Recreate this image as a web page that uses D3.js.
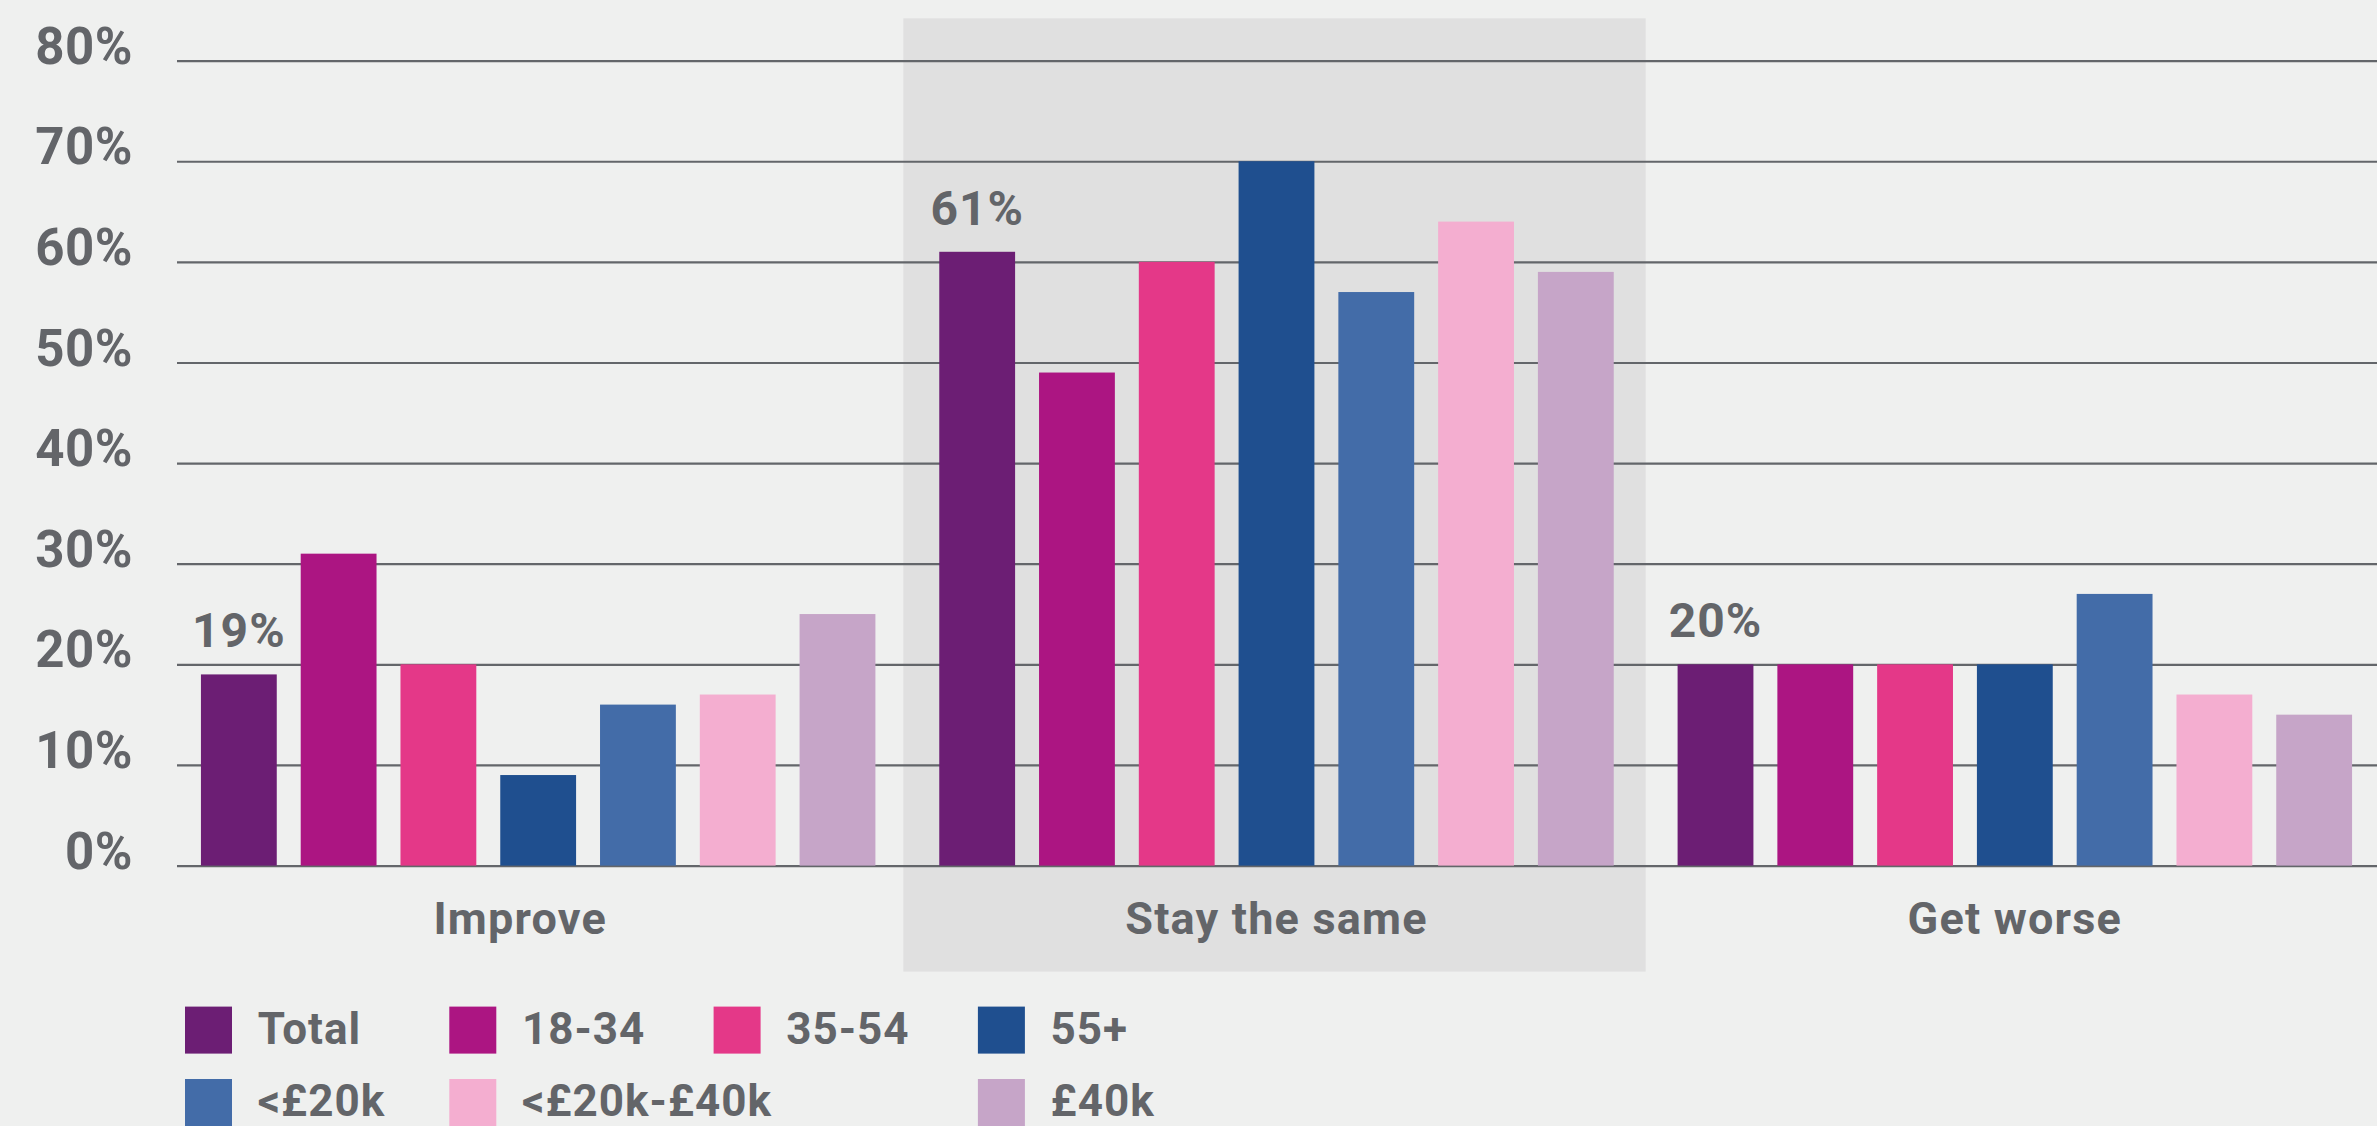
<!DOCTYPE html>
<html>
<head>
<meta charset="utf-8">
<script src="https://cdn.jsdelivr.net/npm/d3@7"></script>
<style>
  html, body { margin: 0; padding: 0; background: #eff0ef; }
  svg { display: block; }
  text { font-family: Roboto, "Noto Sans", sans-serif; font-weight: 700; fill: #636569; }
</style>
</head>
<body>
<svg id="chart" width="2377" height="1126"></svg>
<script>
// ---- data ----
const categories = ["Improve", "Stay the same", "Get worse"];
const seriesNames = ["Total", "18-34", "35-54", "55+", "<£20k", "<£20k-£40k", "£40k"];
const improveValues = [19, 31, 20, 9, 16, 17, 25];
const stayValues = [61, 49, 60, 70, 57, 64, 59];
const worseValues = [20, 20, 20, 20, 27, 17, 15];
const seriesColors = ["#6c1e74", "#ac1582", "#e43888", "#1f4f8f", "#436ca8", "#f4aed0", "#c6a5c8"];
const yTicks = [0, 10, 20, 30, 40, 50, 60, 70, 80];
const legendSlots = ["Total", "18-34", "35-54", "55+", "<£20k", "<£20k-£40k", null, "£40k"];
const highlightedCategory = "Stay the same";

const valuesByCategory = [improveValues, stayValues, worseValues];
const rows = categories.map((c, i) => ({
  category: c,
  values: seriesNames.map((s, j) => ({ series: s, value: valuesByCategory[i][j] }))
}));

// ---- layout ----
const W = 2377, H = 1126;
const gridLeft = 177, gridRight = W;
const tickLabelX = 133;

const svg = d3.select("#chart");
svg.append("rect").attr("width", W).attr("height", H).attr("fill", "#eff0ef");

const y = d3.scaleLinear().domain([0, 80]).range([865.6, 60.6]);
const x0 = d3.scaleBand().domain(categories).range([169, 2384]).padding(0);
const x1 = d3.scaleBand().domain(seriesNames).range([0, x0.bandwidth()])
  .paddingInner(0.24).paddingOuter(0.32);
const color = d3.scaleOrdinal().domain(seriesNames).range(seriesColors);

// highlighted band
svg.append("rect")
  .attr("x", x0(highlightedCategory) - 4)
  .attr("width", x0.bandwidth() + 4)
  .attr("y", y(84.2))
  .attr("height", y(0) + 106 - y(84.2))
  .attr("fill", "#e0e0e0");

// gridlines + tick labels
const axis = d3.axisLeft(y)
  .tickValues(yTicks)
  .tickSize(-(gridRight - gridLeft))
  .tickPadding(gridLeft - tickLabelX)
  .tickFormat(d => d + "%");
const gAxis = svg.append("g").attr("transform", `translate(${gridLeft},0)`).call(axis);
gAxis.select(".domain").remove();
gAxis.selectAll(".tick line").attr("stroke", "#63666a").attr("stroke-width", 2.2);
gAxis.selectAll(".tick text")
  .attr("dy", "0.05em")
  .style("font-size", "51px")
  .style("font-family", "Roboto, sans-serif")
  .style("font-weight", 700)
  .style("letter-spacing", "0.5px")
  .attr("fill", "#636569");

// bars
const groups = svg.append("g").selectAll("g").data(rows).join("g")
  .attr("transform", d => `translate(${x0(d.category)},0)`);

groups.selectAll("rect").data(d => d.values).join("rect")
  .attr("x", d => x1(d.series))
  .attr("width", x1.bandwidth())
  .attr("y", d => y(d.value))
  .attr("height", d => y(0) - y(d.value))
  .attr("fill", d => color(d.series));

// value labels for Total
groups.append("text")
  .datum(d => d.values[0])
  .attr("x", d => x1(d.series) + x1.bandwidth() / 2)
  .attr("y", d => y(d.value) - 27)
  .attr("text-anchor", "middle")
  .style("font-size", "48px")
  .style("letter-spacing", "1px")
  .text(d => d.value + "%");

// category labels
svg.append("g").selectAll("text").data(categories).join("text")
  .attr("x", (d, i) => i === 0
      ? (tickLabelX + x0(d) + x0.bandwidth()) / 2
      : x0(d) + x0.bandwidth() / 2)
  .attr("y", 934)
  .attr("text-anchor", "middle")
  .style("font-size", "45px")
  .style("letter-spacing", "1.2px")
  .text(d => d);

// legend
const legendX0 = 185, legendColStep = 264.3, legendY0 = 1006.6, legendRowStep = 72.4, sq = 47;
const legend = svg.append("g").selectAll("g")
  .data(legendSlots.map((s, i) => ({ s, i })).filter(d => d.s !== null))
  .join("g")
  .attr("transform", d => `translate(${legendX0 + (d.i % 4) * legendColStep},${legendY0 + Math.floor(d.i / 4) * legendRowStep})`);
legend.append("rect")
  .attr("width", sq).attr("height", sq)
  .attr("fill", d => color(d.s));
legend.append("text")
  .attr("x", 72.7)
  .attr("y", 37)
  .style("font-size", "44px")
  .style("letter-spacing", "1px")
  .text(d => d.s);
</script>
</body>
</html>
